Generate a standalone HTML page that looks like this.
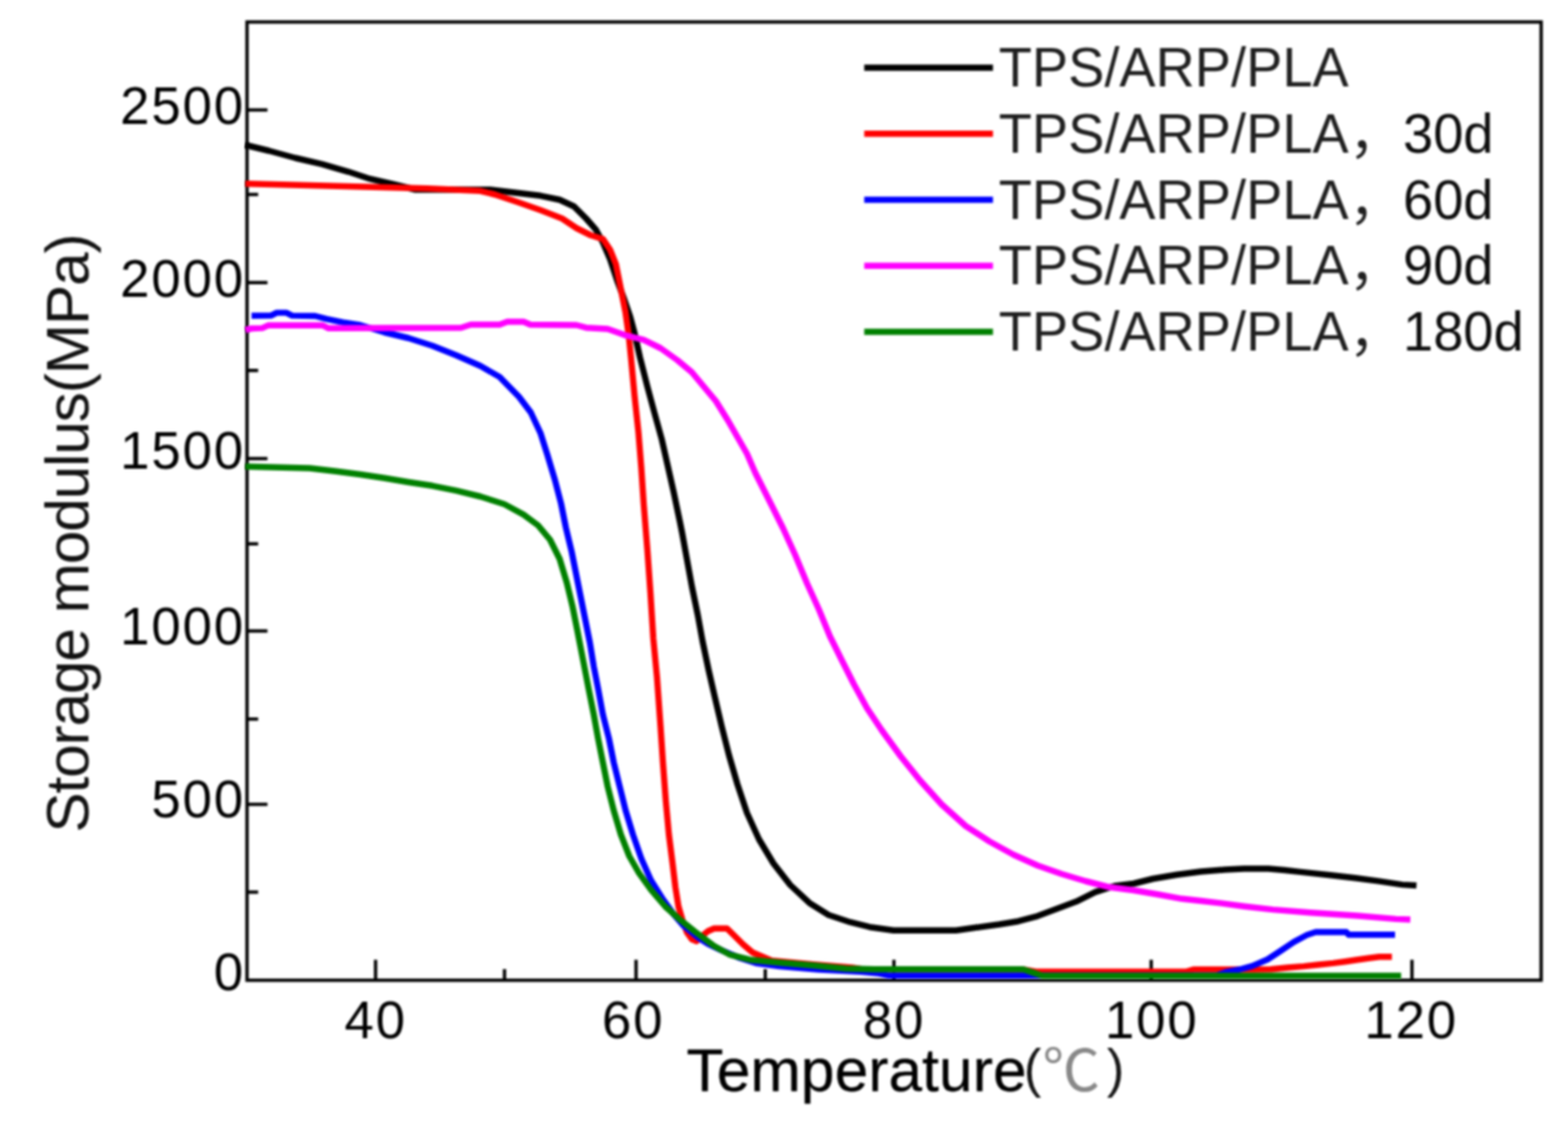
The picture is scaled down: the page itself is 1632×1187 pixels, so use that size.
<!DOCTYPE html>
<html lang="en"><head><meta charset="utf-8"><title>Storage modulus vs Temperature</title>
<style>
html,body{margin:0;padding:0;background:#fff;}
body{width:1632px;height:1187px;overflow:hidden;}
svg{display:block;}
text{font-family:"Liberation Sans", "Noto Sans CJK SC", sans-serif;fill:#000;}
.title{stroke:#000;stroke-width:0.3px;stroke-linejoin:round;}
.tick{font-size:55px;letter-spacing:1.9px;}
.title{font-size:63px;}
.ytitle{fill:#121212;stroke:none;}
.leg{font-size:56.5px;fill:#1f1f1f;}
.legd{fill:#0d0d0d;}
.paren{font-size:55px;fill:#151515;stroke:none;}
.degc{font-size:60px;font-weight:400;fill:#888888;stroke:none;}
.curve{fill:none;stroke-width:6.45;stroke-linejoin:round;stroke-linecap:butt;}
.ax{stroke:#000;stroke-width:3.45;fill:none;}
</style></head><body>
<svg width="1632" height="1187" viewBox="0 0 1632 1187" role="img" aria-label="Storage modulus versus temperature">
<defs><filter id="soft" x="-2%" y="-2%" width="104%" height="104%" color-interpolation-filters="sRGB"><feGaussianBlur stdDeviation="0.9"/></filter><filter id="soft2" x="-2%" y="-2%" width="104%" height="104%" color-interpolation-filters="sRGB"><feGaussianBlur stdDeviation="0.8"/></filter></defs>
<rect x="0" y="0" width="1632" height="1187" fill="#ffffff"/>
<g id="axes" filter="url(#soft2)">
<rect class="ax" x="257.10" y="22.90" width="1346.95" height="997.75"/>
<line class="ax" x1="257.10" y1="114.50" x2="278.40" y2="114.50"/>
<line class="ax" x1="257.10" y1="202.50" x2="268.70" y2="202.50"/>
<line class="ax" x1="257.10" y1="294.25" x2="278.40" y2="294.25"/>
<line class="ax" x1="257.10" y1="385.75" x2="268.70" y2="385.75"/>
<line class="ax" x1="257.10" y1="477.50" x2="278.40" y2="477.50"/>
<line class="ax" x1="257.10" y1="566.25" x2="268.70" y2="566.25"/>
<line class="ax" x1="257.10" y1="657.00" x2="278.40" y2="657.00"/>
<line class="ax" x1="257.10" y1="748.70" x2="268.70" y2="748.70"/>
<line class="ax" x1="257.10" y1="837.50" x2="278.40" y2="837.50"/>
<line class="ax" x1="257.10" y1="928.90" x2="268.70" y2="928.90"/>
<line class="ax" x1="390.90" y1="1020.65" x2="390.90" y2="999.35"/>
<line class="ax" x1="525.10" y1="1020.65" x2="525.10" y2="1009.05"/>
<line class="ax" x1="662.00" y1="1020.65" x2="662.00" y2="999.35"/>
<line class="ax" x1="796.50" y1="1020.65" x2="796.50" y2="1009.05"/>
<line class="ax" x1="930.40" y1="1020.65" x2="930.40" y2="999.35"/>
<line class="ax" x1="1198.20" y1="1020.65" x2="1198.20" y2="999.35"/>
<line class="ax" x1="1469.60" y1="1020.65" x2="1469.60" y2="999.35"/>
</g>
<g id="curves" filter="url(#soft2)">
<polyline class="curve" stroke="#000000" points="255.4,151.0 280.0,157.0 307.5,164.5 335.0,170.8 362.5,178.8 385.0,186.2 410.0,192.0 432.5,197.5 470.0,197.5 510.0,197.5 537.5,200.8 562.5,203.8 582.5,208.0 597.5,215.0 610.0,227.5 620.0,238.8 627.5,252.5 635.0,270.0 642.5,292.5 650.0,312.5 656.0,330.0 660.0,345.0 666.2,372.5 673.8,402.5 681.2,430.0 688.8,457.5 695.0,485.0 701.2,512.5 707.5,542.5 710.0,555.0 715.0,582.5 720.0,610.0 726.2,640.0 731.2,667.5 737.5,697.5 743.8,725.0 751.2,756.5 758.8,786.5 767.5,816.5 777.5,846.5 790.0,874.0 805.0,899.0 822.5,921.5 842.5,940.2 862.5,952.8 885.0,960.2 905.0,965.2 930.0,968.8 995.0,968.8 1012.5,966.2 1040.0,962.5 1060.0,959.2 1080.0,953.8 1100.0,946.2 1120.0,938.8 1140.0,928.8 1160.0,922.5 1180.0,920.0 1200.0,915.0 1225.0,910.8 1250.0,907.5 1275.0,905.5 1295.0,904.5 1320.0,904.5 1337.0,906.0 1353.5,907.9 1384.9,911.3 1410.9,914.3 1434.4,917.4 1459.5,921.1 1474.3,922.0"/>
<polyline class="curve" stroke="#ff0000" points="255.4,191.2 322.5,193.0 445.0,196.2 500.0,198.8 515.0,202.5 537.5,210.0 562.5,218.8 585.0,227.5 600.0,237.5 615.0,245.0 627.5,248.8 635.0,260.0 641.0,275.0 646.0,300.0 651.0,325.0 654.5,350.0 657.0,375.0 660.5,412.5 664.5,450.0 667.5,487.5 670.0,525.0 673.8,572.5 677.0,617.5 680.0,665.0 683.8,705.0 687.5,756.5 690.0,794.0 693.0,834.0 696.2,869.0 700.0,899.0 703.0,924.0 706.2,944.0 710.0,957.0 715.0,971.0 720.0,978.0 725.0,980.0 732.5,973.0 737.0,969.5 743.3,966.7 756.7,966.7 763.3,973.3 773.3,983.3 783.3,991.7 795.0,996.8 803.3,1000.3 846.7,1004.2 886.7,1007.4 896.0,1009.0 950.0,1009.4 1065.0,1009.4 1078.0,1011.6 1235.0,1011.6 1242.0,1009.5 1305.0,1009.5 1322.7,1009.3 1340.0,1007.5 1356.9,1006.1 1372.0,1004.5 1387.6,1002.9 1400.0,1001.2 1411.6,999.5 1424.0,997.8 1435.5,996.2 1448.7,996.2"/>
<polyline class="curve" stroke="#0000ff" points="261.8,328.8 282.0,328.6 288.0,325.6 298.0,325.6 304.0,328.6 328.0,329.0 340.0,332.2 357.0,335.6 375.0,338.5 400.0,346.0 425.0,352.0 450.0,360.0 475.0,370.0 500.0,381.0 520.0,392.5 540.0,413.0 552.5,429.5 562.5,450.8 570.0,474.5 577.5,499.5 584.0,524.5 589.0,549.5 595.0,574.5 600.0,599.5 605.0,624.5 610.0,649.5 614.0,669.5 618.0,694.0 622.5,717.0 627.5,744.0 633.8,769.0 638.8,794.0 645.0,819.0 651.2,844.0 658.8,869.0 667.5,894.0 677.5,916.5 690.0,936.5 701.5,952.5 711.0,963.5 719.0,970.0 727.0,976.5 736.5,982.5 750.0,989.0 770.0,997.5 786.7,1002.8 811.0,1006.0 852.0,1009.5 896.0,1011.8 915.0,1013.5 925.0,1015.8 1081.0,1015.8 1266.0,1015.8 1276.0,1012.2 1290.0,1009.5 1303.3,1005.9 1319.3,999.0 1333.0,990.0 1346.6,980.8 1360.3,973.5 1369.4,970.5 1401.3,970.5 1403.6,973.3 1452.0,973.3"/>
<polyline class="curve" stroke="#ff00ff" points="255.4,343.5 262.0,342.0 273.0,341.6 279.0,338.8 336.0,338.8 342.0,341.8 480.0,341.2 490.0,338.0 520.0,338.0 528.0,335.0 545.0,335.0 552.0,338.0 600.0,338.5 610.0,341.2 632.5,342.5 650.0,348.8 670.0,353.8 687.5,362.5 705.0,375.0 720.0,387.5 732.5,402.5 745.0,417.5 757.5,437.5 767.5,455.0 777.5,472.5 786.2,492.5 795.0,510.0 803.8,527.5 815.0,550.0 827.5,577.5 840.0,607.5 852.5,635.0 863.8,662.5 876.2,687.5 888.8,712.5 902.5,737.5 917.5,760.0 937.5,787.5 957.5,812.5 980.0,837.5 1005.0,860.0 1030.0,876.2 1055.0,890.0 1080.0,901.2 1105.0,910.0 1130.0,917.5 1155.0,923.8 1180.0,927.0 1205.0,931.2 1230.0,935.8 1250.0,938.0 1270.3,940.4 1295.3,943.7 1325.0,947.1 1363.7,950.3 1412.7,953.5 1452.8,956.9 1467.9,957.5"/>
<polyline class="curve" stroke="#008000" points="255.4,485.8 322.5,487.5 350.0,490.8 375.0,494.0 400.0,497.8 425.0,502.0 450.0,505.8 475.0,510.8 500.0,517.0 525.0,525.0 545.0,535.8 560.0,547.0 572.5,562.0 582.5,582.0 590.0,607.0 596.0,632.0 601.0,657.0 607.3,689.5 613.0,719.0 618.0,744.0 622.5,769.0 627.5,794.0 632.5,819.0 638.8,844.0 646.2,869.0 655.0,891.5 665.0,909.0 677.5,926.5 692.5,944.0 706.7,956.7 723.3,970.0 743.3,985.0 760.0,994.2 780.0,999.2 813.3,1002.5 846.7,1005.3 880.0,1008.5 910.0,1009.3 1065.0,1009.3 1075.0,1012.6 1085.0,1016.0 1458.3,1016.0"/>
</g>
<g id="ticklabels" filter="url(#soft)">
<text class="tick" transform="translate(255.0,128.6) scale(1,1)" text-anchor="end">2500</text>
<text class="tick" transform="translate(255.0,308.6) scale(1,1)" text-anchor="end">2000</text>
<text class="tick" transform="translate(255.0,488.2) scale(1,1)" text-anchor="end">1500</text>
<text class="tick" transform="translate(255.0,670.8) scale(1,1)" text-anchor="end">1000</text>
<text class="tick" transform="translate(255.0,851.2) scale(1,1)" text-anchor="end">500</text>
<text class="tick" transform="translate(255.0,1031.0) scale(1,1)" text-anchor="end">0</text>
<text class="tick" transform="translate(358.5,1081.0) scale(1,1)">40</text>
<text class="tick" transform="translate(626.5,1081.0) scale(1,1)">60</text>
<text class="tick" transform="translate(898.0,1081.0) scale(1,1)">80</text>
<text class="tick" transform="translate(1150.0,1081.0) scale(1,1)">100</text>
<text class="tick" transform="translate(1420.0,1081.0) scale(1,1)">120</text>
</g>
<g id="titles" filter="url(#soft)">
<text class="title" x="714.5" y="1136.3"><tspan x="714.5" y="1136.3" textLength="354" lengthAdjust="spacing">Temperature</tspan><tspan class="paren" x="1065.5" y="1131.0">(</tspan><tspan class="degc" x="1085.0" y="1135.5">℃</tspan><tspan class="paren" x="1152.0" y="1131.0">)</tspan></text>
<text class="title ytitle" transform="translate(92,867) rotate(-90)" x="0" y="0" textLength="624" lengthAdjust="spacing">Storage modulus(MPa)</text>
</g>
<g id="legend" filter="url(#soft)">
<line x1="899.5" y1="70.40" x2="1033.5" y2="70.40" stroke="#000000" stroke-width="6.45"/>
<text class="leg" x="1039.5" y="90.00">TPS/ARP/PLA</text>
<line x1="899.5" y1="139.15" x2="1033.5" y2="139.15" stroke="#ff0000" stroke-width="6.45"/>
<text class="leg" x="1039.5" y="158.75">TPS/ARP/PLA，<tspan class="legd">30d</tspan></text>
<line x1="899.5" y1="207.90" x2="1033.5" y2="207.90" stroke="#0000ff" stroke-width="6.45"/>
<text class="leg" x="1039.5" y="227.50">TPS/ARP/PLA，<tspan class="legd">60d</tspan></text>
<line x1="899.5" y1="276.65" x2="1033.5" y2="276.65" stroke="#ff00ff" stroke-width="6.45"/>
<text class="leg" x="1039.5" y="296.25">TPS/ARP/PLA，<tspan class="legd">90d</tspan></text>
<line x1="899.5" y1="345.40" x2="1033.5" y2="345.40" stroke="#008000" stroke-width="6.45"/>
<text class="leg" x="1039.5" y="365.00">TPS/ARP/PLA，<tspan class="legd">180d</tspan></text>
</g>
</svg>
</body></html>
